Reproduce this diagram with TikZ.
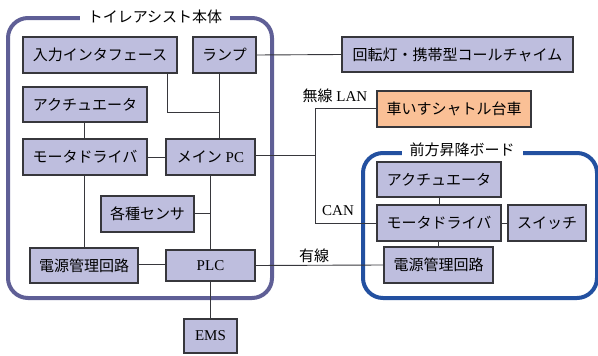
\documentclass[tikz,border=0pt]{standalone}
\usepackage{fontspec}
\setmainfont{Liberation Serif}
\newfontfamily\jp{Noto Sans CJK JP}
\definecolor{boxfill}{RGB}{190,190,222}
\definecolor{boxline}{RGB}{55,55,60}
\definecolor{orangefill}{RGB}{250,192,150}
\definecolor{frameA}{RGB}{95,95,150}
\definecolor{frameB}{RGB}{35,80,160}
\begin{document}
\begin{tikzpicture}[x=1pt,y=-1pt,
  every node/.style={font=\fontsize{15}{18}\selectfont},
  box/.style={draw=boxline,line width=1.1pt,fill=boxfill,inner sep=0pt,anchor=center},
  obox/.style={box,fill=orangefill},
  conn/.style={draw=boxline,line width=0.9pt},
  frame/.style={rounded corners=20pt,line width=4pt},
  ftitle/.style={fill=white,inner xsep=8pt,inner ysep=2pt},
  lbl/.style={inner sep=0pt}]
\useasboundingbox (0,0) rectangle (598,356);
% frames
\draw[frame,draw=frameA] (8,18) rectangle (272,298);
\node[ftitle] (t1) at (155,17) {\jp トイレアシスト本体};
\draw[frame,draw=frameB] (363,153) rectangle (597,298);
\node[ftitle] (t2) at (462,150) {\jp 前方昇降ボード};
% boxes
\node[box,minimum width=154pt,minimum height=36pt] (inif) at (100,55) {\jp 入力インタフェース};
\node[box,minimum width=63pt,minimum height=36pt] (lamp) at (224.5,55) {\jp ランプ};
\node[box,minimum width=124pt,minimum height=35pt] (act1) at (85,104.5) {\jp アクチュエータ};
\node[box,minimum width=124pt,minimum height=36pt] (md1) at (85,157) {\jp モータドライバ};
\node[box,minimum width=89pt,minimum height=36pt] (mpc) at (210.5,157) {{\jp メイン} PC};
\node[box,minimum width=93pt,minimum height=36pt] (sens) at (147.5,214) {\jp 各種センサ};
\node[box,minimum width=108pt,minimum height=35pt] (pw1) at (84,265.5) {\jp 電源管理回路};
\node[box,minimum width=89pt,minimum height=31pt] (plc) at (210.5,265.5) {PLC};
\node[box,minimum width=53pt,minimum height=34pt] (ems) at (210.5,336) {EMS};
\node[box,minimum width=231pt,minimum height=35pt] (rot) at (457.5,54.5) {\jp 回転灯・携帯型コールチャイム};
\node[obox,minimum width=154pt,minimum height=36pt] (wheel) at (454,109) {\jp 車いすシャトル台車};
\node[box,minimum width=124pt,minimum height=35pt] (act2) at (439,179.5) {\jp アクチュエータ};
\node[box,minimum width=124pt,minimum height=36pt] (md2) at (439,223) {\jp モータドライバ};
\node[box,minimum width=78pt,minimum height=36pt] (sw) at (547,223) {\jp スイッチ};
\node[box,minimum width=109pt,minimum height=36pt] (pw2) at (438.5,265) {\jp 電源管理回路};
% labels
\node[lbl] (lan) at (335,96) {{\jp 無線} LAN};
\node[lbl] (can) at (338,211) {CAN};
\node[lbl] (wire) at (314,256) {\jp 有線};
% junction coordinates
\coordinate (j1) at (219,112);
\coordinate (j2) at (167,112);
\coordinate (j3) at (210,213);
\coordinate (j4) at (315,155);
\coordinate (j5) at (315,108);
\coordinate (j6) at (315,223);
% connectors
\draw[conn] (lamp.east) -- (rot.west);
\draw[conn] (inif.south -| j2) -- (j2) -- (j1);
\draw[conn] (lamp.south -| j1) -- (mpc.north -| j1);
\draw[conn] (act1.south -| 84,0) -- (md1.north -| 84,0);
\draw[conn] (md1.east) -- (mpc.west);
\draw[conn] (md1.south -| 84,0) -- (pw1.north -| 84,0);
\draw[conn] (mpc.south -| j3) -- (plc.north -| j3);
\draw[conn] (sens.east |- j3) -- (j3);
\draw[conn] (pw1.east |- 0,264) -- (plc.west |- 0,264);
\draw[conn] (plc.south -| j3) -- (ems.north -| j3);
\draw[conn] (plc.east) -- (pw2.west);
\draw[conn] (mpc.east |- j4) -- (j4);
\draw[conn] (wheel.west |- j5) -- (j5) -- (j6) -- (md2.west);
\draw[conn] (act2.south) -- (md2.north);
\draw[conn] (md2.south -| pw2.north) -- (pw2.north);
\draw[conn] (md2.east) -- (sw.west);
\end{tikzpicture}
\end{document}
